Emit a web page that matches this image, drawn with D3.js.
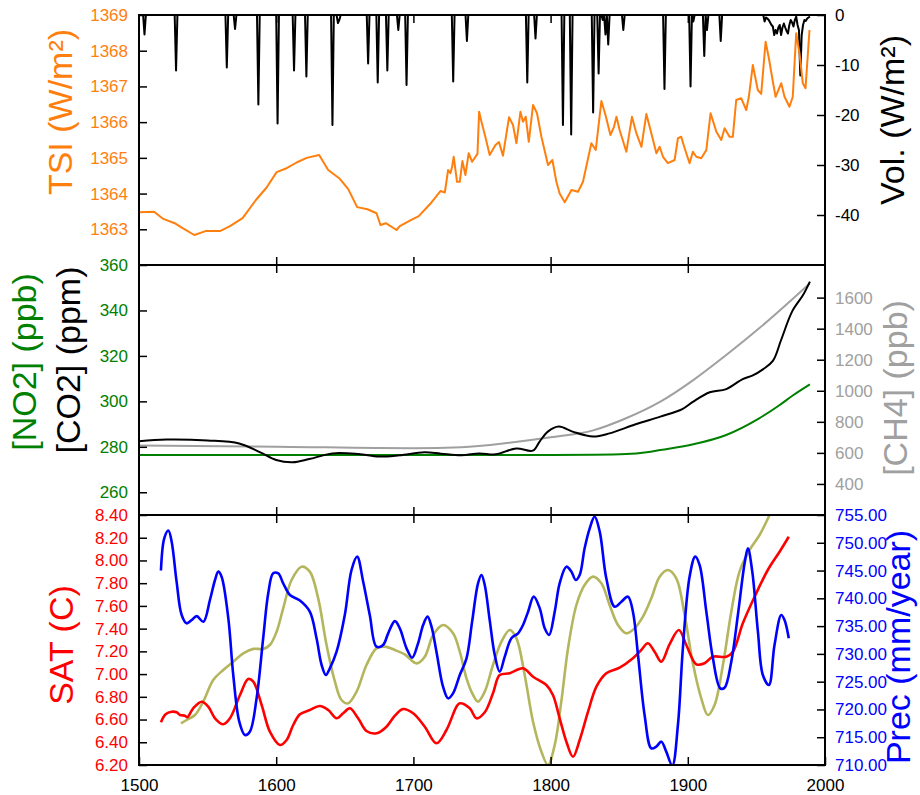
<!DOCTYPE html>
<html>
<head>
<meta charset="utf-8">
<script src="https://cdn.jsdelivr.net/npm/d3@7"></script>
<style>
  html, body { margin: 0; padding: 0; background: #fff; }
  svg { display: block; font-family: "Liberation Sans", Arial, sans-serif; }
</style>
</head>
<body>
<svg id="chart" width="920" height="795"></svg>
<script>
// ---------------- DATA ----------------
const xTickYears = [1500, 1600, 1700, 1800, 1900, 2000];

// Top panel: Total solar irradiance (W/m2)
const tsiYears = [1500,1511,1517.7,1526,1531.8,1540.3,1548.5,1559,1566.3,1575.5,1585.2,1593,1600.3,1607.6,1614.9,1622.2,1631.3,1637.9,1645.9,1652.4,1659,1666.5,1673.1,1676,1679.9,1687.7,1690.1,1697.4,1703.9,1712,1719.7,1722.9,1725.3,1727,1728.2,1729.4,1731.8,1733.8,1735.7,1737.9,1740.3,1742.8,1746.7,1747.9,1749.6,1752.7,1755.6,1759.8,1762.4,1765.3,1769.7,1772.6,1775.1,1778,1779.9,1781.9,1784.1,1787.2,1790.1,1793.3,1798.1,1801.3,1804.2,1806.6,1810.3,1815.2,1820,1823.6,1829.7,1832.9,1837,1840,1843.6,1846.2,1848,1850.3,1855.2,1859.3,1862.5,1866.2,1869.8,1872.2,1877.1,1879.5,1881.9,1885.5,1890.4,1892.8,1895.2,1897.7,1901.3,1903.7,1906.2,1909.8,1913.5,1916.6,1920.8,1924.4,1926.8,1930.4,1932.8,1935.3,1938.9,1942.6,1944.5,1947.4,1951,1953.5,1956.7,1959.1,1962,1964,1968.1,1970.5,1974.1,1976.5,1979,1981.4,1983.8,1985.8,1988.7];
const tsiValues = [1363.48,1363.49,1363.29,1363.17,1363.03,1362.84,1362.95,1362.95,1363.09,1363.31,1363.82,1364.17,1364.6,1364.71,1364.87,1365.0,1365.08,1364.66,1364.43,1364.13,1363.62,1363.56,1363.45,1363.12,1363.17,1362.98,1363.09,1363.24,1363.37,1363.70,1364.07,1364.03,1364.66,1364.57,1364.75,1365.03,1364.33,1364.33,1364.91,1364.52,1365.13,1364.89,1365.11,1366.29,1366.01,1365.55,1365.08,1365.36,1365.44,1365.06,1366.14,1365.92,1365.41,1366.29,1366.01,1366.15,1365.45,1366.48,1366.25,1365.59,1364.80,1364.94,1364.33,1364.0,1363.76,1364.1,1364.05,1364.33,1365.41,1365.22,1366.59,1366.2,1365.64,1365.87,1366.15,1365.78,1365.17,1366.15,1365.69,1365.31,1366.23,1365.87,1365.13,1365.31,1365.03,1364.85,1364.94,1365.55,1365.59,1365.27,1364.85,1365.17,1365.03,1364.99,1365.22,1366.25,1365.73,1365.5,1365.83,1365.59,1365.59,1366.62,1366.67,1366.34,1366.71,1367.60,1366.90,1366.79,1368.25,1367.79,1367.13,1366.71,1367.09,1366.71,1366.43,1366.71,1368.49,1367.93,1367.09,1366.95,1368.58];

// Top panel: volcanic forcing events (W/m2), zero in other years
const volEventYears = [1504,1527,1564,1570,1587,1601,1613,1622,1641,1645,1646,1667,1674,1681,1689,1695,1729,1739,1783,1789,1809,1815,1831,1835,1838,1840,1842,1853,1883,1902,1904,1912,1914,1924,
  1956,1957,1958,1959,1960,1961,1962,1963,1964,1965,1966,1967,1968,1969,1970,1971,1972,1973,1974,1975,1976,1977,1978,1979,1980,1981,1982,1983,1984,1985,1986,1987,1988,1989];
const volEventValues = [-3.9,-11.1,-10.5,-2.8,-17.9,-21.7,-11.1,-12.3,-22,-1.6,-1.0,-9.7,-13.5,-11.1,-3,-14,-13.3,-5.2,-13.5,-4.7,-22,-23.9,-19.5,-11.7,-1,-3.9,-5.9,-3,-14.8,-14.3,-1.3,-8.2,-3,-5.2,
  -1.3,-0.5,-0.7,-1.0,-1.5,-2.0,-2.3,-4,-3,-3.7,-2.5,-2,-4,-2.5,-1.7,-2.5,-3.2,-3.7,-2,-1,-1.5,-2.3,-1,-0.3,-2,-3,-12.1,-4,-2,-1,-1.2,-0.7,-0.5,-0.3];
const volFirstYear = 1500, volLastYear = 1989;

// Middle panel: greenhouse gases
const co2Years = [1500,1520,1550,1573,1588,1600,1612,1624,1641,1660,1675,1690,1708,1720,1735,1748,1760,1775,1787,1792,1798,1806,1816,1831,1843,1862,1880,1896,1904,1916,1928,1940,1947,1955,1962,1968,1976,1984,1989];
const co2Values = [282.5,283.2,282.8,281.5,277.7,274.2,273.2,274.6,277.1,276.8,275.7,276.3,277.6,277.0,276.3,277.1,276.7,279.3,278.3,282.3,286.7,288.9,286.7,284.5,285.9,289.9,293.3,296.6,299.9,304,305.4,309.8,311.3,314.2,317.8,327,339.5,346.8,352.7];
const n2oYears = [1500,1700,1800,1830,1855,1870,1880,1904,1928,1952,1967,1977,1989];
const n2oValues = [276.4,276.4,276.4,276.5,276.8,277.6,278.6,281.1,285.2,292.5,298.4,302.8,307.5];
const ch4Years = [1500,1600,1700,1735,1770,1800,1831,1855,1880,1904,1928,1952,1977,1989];
const ch4Values = [648,640,630,636,665,700,745,823,930,1069,1230,1402,1596,1692];

// Bottom panel: surface air temperature (C)
const satYears = [1516,1519.4,1523.8,1527.4,1529.9,1533.5,1535.2,1539.5,1545.7,1550.5,1555.4,1561.4,1566.3,1573.6,1579.6,1583.3,1589.4,1595.4,1602.7,1607.6,1612.4,1617.3,1624.5,1631.8,1637.9,1644,1648.8,1653.7,1659.7,1665.8,1673.1,1680.4,1686.5,1692.5,1699.8,1708.3,1716.8,1724.1,1731.4,1733.8,1741.1,1746,1752,1758,1762.9,1770.2,1779.9,1787.2,1796.9,1801.7,1806.6,1811.5,1816.3,1821.2,1827.3,1833.4,1840.6,1850.3,1860,1866.1,1870.9,1875.8,1880.7,1886.7,1893.5,1898.9,1906.2,1912.2,1918.3,1928,1932.9,1940.1,1948.7,1958.3,1966.9,1973.6];
const satValues = [6.576,6.646,6.669,6.664,6.64,6.634,6.62,6.699,6.757,6.713,6.611,6.558,6.611,6.816,6.957,6.933,6.728,6.493,6.376,6.42,6.552,6.646,6.684,6.719,6.684,6.611,6.655,6.699,6.611,6.499,6.479,6.537,6.634,6.693,6.655,6.537,6.391,6.508,6.713,6.743,6.699,6.611,6.664,6.831,6.992,7.007,7.051,6.977,6.904,6.816,6.611,6.405,6.273,6.42,6.669,6.889,7.007,7.056,7.139,7.212,7.271,7.197,7.109,7.262,7.388,7.256,7.086,7.095,7.153,7.153,7.197,7.447,7.681,7.916,8.077,8.209];

// Bottom panel: precipitation (mm/year)
const precYears = [1516,1518.4,1521.4,1523.8,1527.4,1531.1,1534.7,1538.4,1542,1546.9,1551.7,1555.4,1557.8,1560.2,1565.1,1568.7,1573.1,1577.2,1580.8,1585.7,1590.5,1594.2,1597.8,1601.5,1605.1,1610,1617.3,1624.5,1629.4,1633.1,1636.2,1639.1,1644,1650,1654.9,1659,1663.4,1668.2,1673.1,1677.9,1681.6,1686.5,1690.1,1695,1699.1,1703.4,1707.1,1710.3,1713.2,1716.8,1721.6,1725.3,1728.9,1733.8,1738.7,1742.8,1747.1,1749.6,1752,1755.6,1759.3,1762.9,1766.6,1771.4,1776.3,1779.9,1783.6,1787.7,1792.1,1795.7,1798.9,1803,1806.6,1811.5,1815.2,1818.3,1821.2,1824.8,1828.5,1832.1,1835.8,1840.6,1846.7,1851.6,1856.4,1860,1863.7,1868.5,1873.4,1877,1880.7,1884.3,1888.7,1892.8,1896.4,1901.3,1905.4,1908.6,1913.5,1918.3,1923.7,1926.8,1931.7,1936.5,1941.4,1943.8,1947,1951.1,1954.7,1959.1,1963.2,1968.1,1970.5,1973.6];
const precValues = [745.0,750.8,752.2,750.2,743.0,737.0,735.5,736.1,736.8,735.8,739.7,743.3,744.8,743.9,736.4,726.2,717.8,715.4,716.0,722.0,732.8,740.9,744.5,744.5,742.7,740.6,739.6,737.6,732.8,728.0,726.2,727.4,730.4,737.0,745.1,747.5,743.0,737.0,731.3,731.6,733.7,735.9,734.6,731.0,729.3,731.9,735.2,736.7,734.9,730.4,724.1,722.0,722.9,726.2,729.2,735.8,742.7,744.2,742.4,736.1,729.8,726.8,729.5,732.8,733.7,735.2,737.6,740.3,738.2,734.6,733.4,737.6,742.7,745.7,744.8,743.3,744.2,749.0,752.6,754.7,752.0,743.6,738.5,739.4,740.3,737.6,729.8,719.0,713.0,713.3,714.2,712.4,709.9,717.2,731.0,743.9,747.5,746.0,737.6,729.2,723.8,723.9,728.6,737.0,746.3,749.0,744.8,734.0,726.2,724.4,731.6,737.0,736.1,732.8];

// Bottom panel: smoothed series (olive, drawn on the precipitation scale)
const oliveYears = [1530.6,1534.7,1540.8,1546.8,1554.1,1561.4,1568.7,1576,1583.3,1590.5,1595.4,1600.3,1605.1,1611.2,1618.5,1624.5,1630.6,1636.7,1642.8,1647.6,1652.4,1658.6,1665.8,1673.1,1679.2,1686.5,1693.7,1702.3,1708.3,1714.4,1721.6,1728.9,1733.8,1738.7,1743.5,1747.1,1752,1758,1764.2,1770.2,1775.1,1781.1,1787.2,1793.3,1798.1,1803,1807.8,1812.7,1818.8,1824.8,1830.9,1837,1843,1849.1,1855.2,1861.2,1867.3,1873.4,1879.5,1885.5,1891.6,1897.7,1903.7,1909.8,1914.6,1919.5,1925.6,1931.7,1937.7,1945,1952.3,1959.6];
const oliveValues = [717.5,718.1,719.0,721.4,725.3,727.1,728.6,730.1,730.9,730.9,731.6,734.0,738.2,743.3,745.7,744.8,740.0,731.6,725.0,721.7,721.1,723.2,728.0,731.0,731.3,730.7,729.9,728.3,729.5,733.4,735.2,733.7,730.4,725.6,722.6,721.4,723.2,728.0,732.2,734.3,732.8,726.2,717.8,712.4,710.0,713.6,721.4,731.0,738.8,742.4,743.9,742.7,738.8,735.2,733.7,734.6,736.7,740.0,743.9,745.1,743.6,737.0,728.3,722.0,719.0,720.8,728.0,737.6,744.8,748.7,751.4,755.0];

// Tick values
const tsiTicks = [1363,1364,1365,1366,1367,1368,1369];
const volTicks = [0,-10,-20,-30,-40];
const ghgTicks = [260,280,300,320,340,360];
const ch4Ticks = [400,600,800,1000,1200,1400,1600];
const satTicks = [6.2,6.4,6.6,6.8,7.0,7.2,7.4,7.6,7.8,8.0,8.2,8.4];
const precTicks = [710,715,720,725,730,735,740,745,750,755];

// ---------------- LAYOUT ----------------
const L = 139, R = 825;
const panels = [{top: 15, bottom: 265}, {top: 265, bottom: 515}, {top: 515, bottom: 765}];
const C = {
  tsi: "#ff7f0e", vol: "#000000", n2o: "#008000", co2: "#000000", ch4: "#a0a0a0",
  sat: "#ff0000", prec: "#0000ff", olive: "#b4b65e"
};
const svg = d3.select("#chart");
const x = d3.scaleLinear().domain([1500, 2000]).range([L, R]);

const yTSI = d3.scaleLinear().domain([1362, 1369]).range([panels[0].bottom, panels[0].top]);
const yVol = d3.scaleLinear().domain([-50, 0]).range([panels[0].bottom, panels[0].top]);
const yGHG = d3.scaleLinear().domain([250, 360]).range([panels[1].bottom, panels[1].top]);
const yCH4 = d3.scaleLinear().domain([200, 1810]).range([panels[1].bottom, panels[1].top]);
const ySAT = d3.scaleLinear().domain([6.2, 8.4]).range([panels[2].bottom, panels[2].top]);
const yPrec = d3.scaleLinear().domain([710, 755]).range([panels[2].bottom, panels[2].top]);

// clip paths
const defs = svg.append("defs");
panels.forEach((p, i) => {
  defs.append("clipPath").attr("id", "clip" + i)
    .append("rect").attr("x", L).attr("y", p.top - 1).attr("width", R - L).attr("height", p.bottom - p.top + 2);
});

function zip(xs, ys) { return xs.map((d, i) => [d, ys[i]]); }
function drawLine(panelIdx, data, yScale, color, width, curve) {
  svg.append("path")
    .attr("clip-path", `url(#clip${panelIdx})`)
    .datum(data)
    .attr("fill", "none")
    .attr("stroke", color)
    .attr("stroke-width", width)
    .attr("stroke-linejoin", "round")
    .attr("d", d3.line().x(d => x(d[0])).y(d => yScale(d[1])).curve(curve || d3.curveLinear));
}

// ---- top panel ----
const volMap = new Map(volEventYears.map((y, i) => [y, volEventValues[i]]));
const volSeries = d3.range(volFirstYear, volLastYear + 1).map(y => [y, volMap.has(y) ? volMap.get(y) : 0]);
drawLine(0, volSeries, yVol, C.vol, 2);
drawLine(0, zip(tsiYears, tsiValues), yTSI, C.tsi, 2);

// ---- middle panel ----
drawLine(1, zip(ch4Years, ch4Values), yCH4, C.ch4, 2, d3.curveMonotoneX);
drawLine(1, zip(n2oYears, n2oValues), yGHG, C.n2o, 2, d3.curveMonotoneX);
drawLine(1, zip(co2Years, co2Values), yGHG, C.co2, 2, d3.curveCatmullRom.alpha(0.5));

// ---- bottom panel ----
drawLine(2, zip(oliveYears, oliveValues), yPrec, C.olive, 2.6, d3.curveCatmullRom.alpha(0.5));
drawLine(2, zip(satYears, satValues), ySAT, C.sat, 2.6, d3.curveCatmullRom.alpha(0.5));
drawLine(2, zip(precYears, precValues), yPrec, C.prec, 2.6, d3.curveCatmullRom.alpha(0.5));

// ---------------- AXES ----------------
const FONT = 17;
function styleAxis(g, color) {
  g.select(".domain").remove();
  g.selectAll(".tick line").attr("stroke", "#000").attr("stroke-width", 1.5);
  g.selectAll(".tick text").attr("fill", color).attr("font-size", FONT)
    .attr("font-family", '"Liberation Sans", Arial, sans-serif');
}
const plain = d => String(d);
function leftAxis(scale, ticks, color, fmt) {
  svg.append("g").attr("transform", `translate(${L},0)`)
    .call(d3.axisLeft(scale).tickValues(ticks).tickSize(-8).tickPadding(11).tickFormat(fmt || plain))
    .call(g => styleAxis(g, color));
}
function rightAxis(scale, ticks, color, fmt) {
  svg.append("g").attr("transform", `translate(${R},0)`)
    .call(d3.axisRight(scale).tickValues(ticks).tickSize(-8).tickPadding(10).tickFormat(fmt || plain))
    .call(g => styleAxis(g, color));
}
leftAxis(yTSI, tsiTicks, C.tsi);
rightAxis(yVol, volTicks, "#000");
leftAxis(yGHG, ghgTicks, C.n2o);
rightAxis(yCH4, ch4Ticks, C.ch4);
leftAxis(ySAT, satTicks, C.sat, d3.format(".2f"));
rightAxis(yPrec, precTicks, C.prec, d3.format(".2f"));

// x ticks on every panel border
const innerYears = xTickYears.filter(d => d > 1500 && d < 2000);
panels.forEach((p, i) => {
  svg.append("g").attr("transform", `translate(0,${p.top})`)
    .call(d3.axisTop(x).tickValues(innerYears).tickSize(-8).tickFormat(""))
    .call(g => styleAxis(g, "#000"));
  if (i < 2) {
    svg.append("g").attr("transform", `translate(0,${p.bottom})`)
      .call(d3.axisBottom(x).tickValues(innerYears).tickSize(-8).tickFormat(""))
      .call(g => styleAxis(g, "#000"));
  }
});
svg.append("g").attr("transform", `translate(0,${panels[2].bottom})`)
  .call(d3.axisBottom(x).tickValues(xTickYears).tickSize(-8).tickPadding(14).tickFormat(plain))
  .call(g => styleAxis(g, "#000"));

// frames
panels.forEach(p => {
  svg.append("rect").attr("x", L).attr("y", p.top).attr("width", R - L).attr("height", p.bottom - p.top)
    .attr("fill", "none").attr("stroke", "#000").attr("stroke-width", 2);
});

// ---------------- TITLES ----------------
function vTitle(text, bx, cy, color, size) {
  svg.append("text")
    .attr("transform", `translate(${bx},${cy}) rotate(-90)`)
    .attr("text-anchor", "middle")
    .attr("font-size", size || 34)
    .attr("fill", color)
    .text(text);
}
vTitle("TSI (W/m²)", 72, 112, C.tsi);
vTitle("Vol. (W/m²)", 904, 120, "#000");
vTitle("[NO2] (ppb)", 36, 362, C.n2o);
vTitle("[CO2] (ppm)", 80, 360, C.co2);
vTitle("[CH4] (ppb)", 907, 388, C.ch4);
vTitle("SAT (C)", 73, 645, C.sat);
vTitle("Prec (mm/year)", 910, 647, C.prec, 34);
</script>
</body>
</html>
